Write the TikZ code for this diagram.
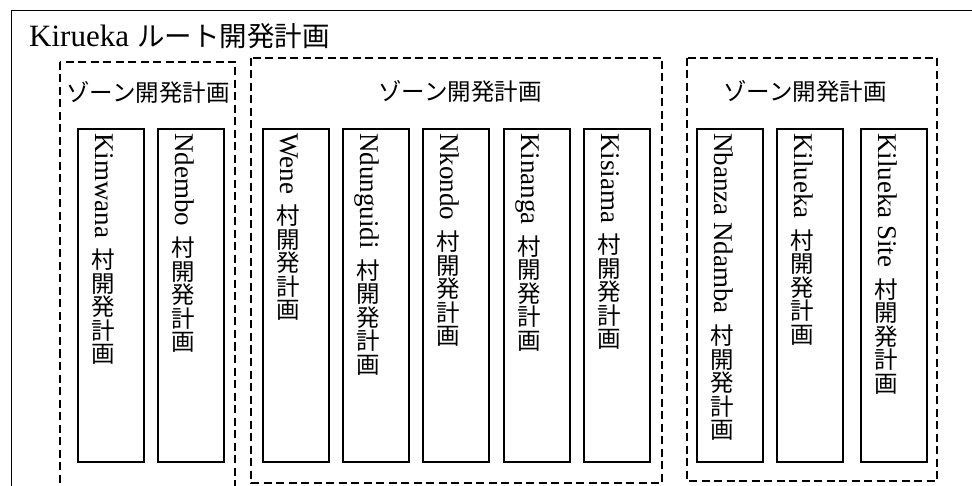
\documentclass[tikz,border=0pt]{standalone}
\usepackage{fontspec}
\usepackage{graphicx}
\setmainfont{Liberation Serif}
\newfontfamily\cjkf{Noto Sans CJK JP}
\newcommand{\vc}[1]{\raisebox{-4pt}{\rotatebox{90}{\cjkf\fontsize{23.5}{28}\selectfont\raisebox{0pt}[0.88em][0.12em]{#1}}}}
\newcommand{\murak}{\kern10pt\vc{村}\vc{開}\vc{発}\vc{計}\vc{画}}
\tikzset{
  outerbox/.style={draw, line width=1.8pt},
  zonebox/.style={draw, line width=2pt, dash pattern=on 8pt off 4.5pt},
  vbox/.style={draw, line width=2pt, minimum width=66pt, minimum height=333pt, inner sep=0pt, anchor=north west},
  vlabel/.style={rotate=-90, anchor=base west, inner sep=0pt, font=\fontsize{27}{30}\selectfont},
  zlabel/.style={font=\cjkf\fontsize{23.5}{28}\selectfont, inner sep=0pt},
}
\begin{document}
\begin{tikzpicture}[x=1pt,y=-1pt]
\useasboundingbox (0,0) rectangle (972,486);
\clip (0,0) rectangle (972,486);
\fill[white] (0,0) rectangle (972,486);
% outer box
\draw[outerbox] (11.5,10.5) rectangle (990,500);
\node[anchor=base west, inner sep=0pt] (title) at (29,47)
  {\fontsize{31}{34}\selectfont Kirueka\kern8pt{\cjkf\fontsize{27.5}{32}\selectfont ルート開発計画}};
% zones
\draw[zonebox] (60,62) rectangle (235,500);
\draw[zonebox] (251,58) rectangle (662,483);
\draw[zonebox] (687,58) rectangle (937,481);
\node[zlabel] (z1) at (148,92) {ゾーン開発計画};
\node[zlabel] (z2) at (460,91) {ゾーン開発計画};
\node[zlabel] (z3) at (805,91) {ゾーン開発計画};
% village boxes
\node[vbox] (b1) at (77,128) {};
\node[vbox] (b2) at (157,128) {};
\node[vbox] (b3) at (262,128) {};
\node[vbox] (b4) at (342,128) {};
\node[vbox] (b5) at (422,128) {};
\node[vbox] (b6) at (503,128) {};
\node[vbox] (b7) at (583,128) {};
\node[vbox] (b8) at (696,128) {};
\node[vbox] (b9) at (776,128) {};
\node[vbox] (b10) at (860,128) {};
% vertical texts
\path (b1.north) ++(-16,5) node[vlabel] (t1) {Kimwana\murak};
\path (b2.north) ++(-16,5) node[vlabel] (t2) {Ndembo\murak};
\path (b3.north) ++(-16,5) node[vlabel] (t3) {Wene\murak};
\path (b4.north) ++(-16,5) node[vlabel] (t4) {Ndunguidi\murak};
\path (b5.north) ++(-16,5) node[vlabel] (t5) {Nkondo\murak};
\path (b6.north) ++(-16,5) node[vlabel] (t6) {Kinanga\murak};
\path (b7.north) ++(-16,5) node[vlabel] (t7) {Kisiama\murak};
\path (b8.north) ++(-16,5) node[vlabel] (t8) {Nbanza Ndamba\murak};
\path (b9.north) ++(-16,5) node[vlabel] (t9) {Kilueka\murak};
\path (b10.north) ++(-16,5) node[vlabel] (t10) {Kilueka Site\murak};
\end{tikzpicture}
\end{document}
